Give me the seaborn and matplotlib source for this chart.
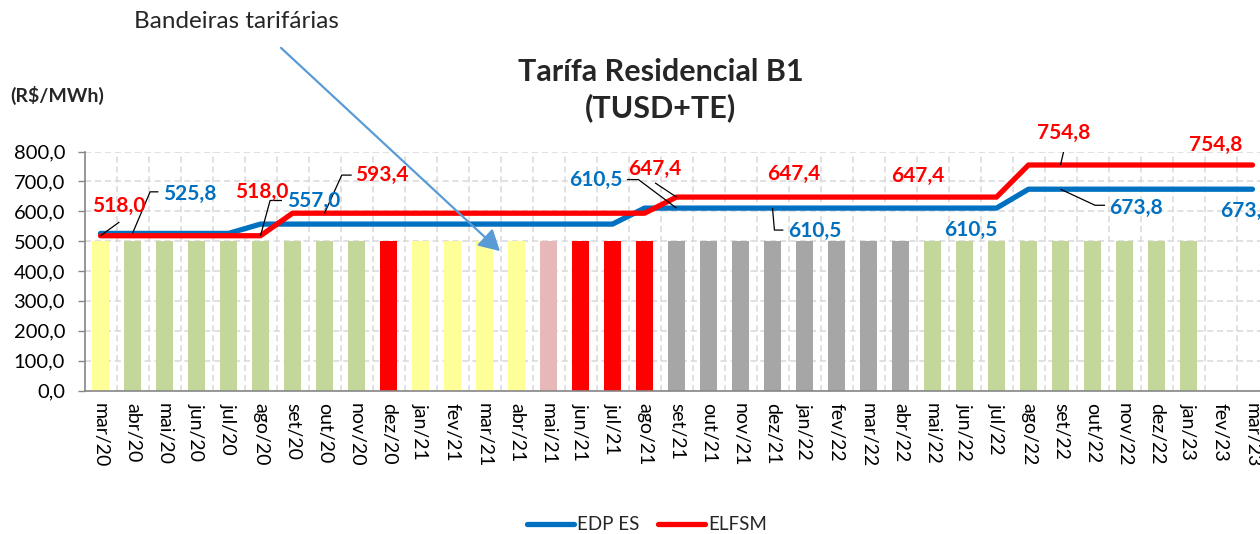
import numpy as np
import pandas as pd
import matplotlib
matplotlib.use("Agg")
import matplotlib.pyplot as plt
import seaborn as sns
from matplotlib.ticker import FuncFormatter, FixedLocator
from matplotlib.lines import Line2D

# ---------------------------------------------------------------- data
meses = ["mar/20", "abr/20", "mai/20", "jun/20", "jul/20", "ago/20", "set/20", "out/20", "nov/20", "dez/20",
         "jan/21", "fev/21", "mar/21", "abr/21", "mai/21", "jun/21", "jul/21", "ago/21", "set/21", "out/21",
         "nov/21", "dez/21", "jan/22", "fev/22", "mar/22", "abr/22", "mai/22", "jun/22", "jul/22", "ago/22",
         "set/22", "out/22", "nov/22", "dez/22", "jan/23", "fev/23", "mar/23"]

# tarifa residencial B1 (TUSD+TE), R$/MWh
edp_es = [525.8, 525.8, 525.8, 525.8, 525.8,
          557.0, 557.0, 557.0, 557.0, 557.0, 557.0, 557.0, 557.0, 557.0, 557.0, 557.0, 557.0,
          610.5, 610.5, 610.5, 610.5, 610.5, 610.5, 610.5, 610.5, 610.5, 610.5, 610.5, 610.5,
          673.8, 673.8, 673.8, 673.8, 673.8, 673.8, 673.8, 673.8]
elfsm = [518.0, 518.0, 518.0, 518.0, 518.0, 518.0,
         593.4, 593.4, 593.4, 593.4, 593.4, 593.4, 593.4, 593.4, 593.4, 593.4, 593.4, 593.4,
         647.4, 647.4, 647.4, 647.4, 647.4, 647.4, 647.4, 647.4, 647.4, 647.4, 647.4,
         754.8, 754.8, 754.8, 754.8, 754.8, 754.8, 754.8, 754.8]

# bandeira tarifária vigente em cada mês (barra indicativa de altura fixa)
bandeira = ["amarela", "verde", "verde", "verde", "verde", "verde", "verde", "verde", "verde", "vermelha P2",
            "amarela", "amarela", "amarela", "amarela", "vermelha P1", "vermelha P2", "vermelha P2", "vermelha P2",
            "escassez", "escassez", "escassez", "escassez", "escassez", "escassez", "escassez", "escassez",
            "verde", "verde", "verde", "verde", "verde", "verde", "verde", "verde", "verde", "", ""]
bandeira_altura = [500.0, 500.0, 500.0, 500.0, 500.0, 500.0, 500.0, 500.0, 500.0, 500.0,
                   500.0, 500.0, 500.0, 500.0, 500.0, 500.0, 500.0, 500.0, 500.0, 500.0,
                   500.0, 500.0, 500.0, 500.0, 500.0, 500.0, 500.0, 500.0, 500.0, 500.0,
                   500.0, 500.0, 500.0, 500.0, 500.0, np.nan, np.nan]

cores_bandeira = {"verde": "#C4D79B", "amarela": "#FFFF99", "vermelha P1": "#E6B8B7",
                  "vermelha P2": "#FF0000", "escassez": "#A6A6A6", "": "none"}

AZUL = "#0070C0"
VERMELHO = "#FF0000"

# rótulos de valor: (série, índice do mês, posição do texto, trajeto da linha de chamada)
rotulos = [
    ("elfsm", 0, (0.58, 619), [(0.59, 564)]),
    ("edp", 1, (2.80, 659), [(1.55, 665), (1.81, 665)]),
    ("elfsm", 5, (5.03, 665), [(5.30, 636), (5.67, 636)]),
    ("edp", 6, (6.66, 635), []),
    ("elfsm", 7, (8.78, 722), [(7.54, 721), (7.85, 721)]),
    ("edp", 18, (15.48, 704), [(16.81, 706), (16.45, 706)]),
    ("elfsm", 18, (17.31, 743), [(17.33, 695)]),
    ("elfsm", 21, (21.66, 726), []),
    ("edp", 21, (22.33, 535), [(21.06, 537), (21.34, 537)]),
    ("elfsm", 25, (25.53, 719), []),
    ("edp", 27, (27.20, 537), []),
    ("elfsm", 30, (30.11, 863), [(30.12, 810)]),
    ("edp", 30, (32.36, 612), [(31.08, 620), (31.39, 620)]),
    ("elfsm", 36, (34.86, 823), []),
    ("edp", 36, (35.83, 602), []),
]

# ---------------------------------------------------------------- style
sns.set_theme(style="white")
plt.rcParams["font.family"] = ["Lato", "DejaVu Sans"]

W, H = 1260, 534
fig = plt.figure(figsize=(W / 100, H / 100), dpi=100)
ax = fig.add_axes([84.5 / W, 1 - 390.5 / H, 1184 / W, 239.0 / H])

df = pd.DataFrame({"mes": meses, "altura": bandeira_altura, "bandeira": bandeira})
pos = np.arange(len(meses))

sns.barplot(data=df, x="mes", y="altura", hue="mes", order=meses, hue_order=meses,
            palette=[cores_bandeira[b] for b in bandeira], legend=False,
            width=0.55, saturation=1, linewidth=0, ax=ax, zorder=2)

sns.lineplot(x=pos, y=edp_es, color=AZUL, linewidth=3.8, solid_capstyle="round",
             sort=False, ax=ax, zorder=4)
sns.lineplot(x=pos, y=elfsm, color=VERMELHO, linewidth=3.8, solid_capstyle="round",
             sort=False, ax=ax, zorder=5)

# axes
ax.set_xlim(-0.5, len(meses) - 0.5)
ax.set_ylim(0, 800)
ax.set_xlabel("")
ax.set_ylabel("")
ax.set_yticks(np.arange(0, 801, 100))
ax.yaxis.set_major_formatter(FuncFormatter(lambda v, p: f"{v:.1f}".replace(".", ",")))
ax.xaxis.set_major_locator(FixedLocator(pos))
ax.set_xticklabels(meses, rotation=270, ha="center", va="top")
ax.xaxis.set_minor_locator(FixedLocator(np.arange(-0.5, len(meses), 1.0)))

ax.tick_params(axis="x", which="major", length=0, pad=9, labelsize=14, colors="black")
ax.tick_params(axis="x", which="minor", length=4.5, width=1, color="#868686", direction="out")
ax.tick_params(axis="y", which="major", length=5, width=1, color="#868686", direction="out",
               pad=9, labelsize=14.5, labelcolor="black", left=True)

grid_kw = dict(color="#D9D9D9", linewidth=1.1, linestyle=(0, (4, 2.5)))
ax.grid(False)
ax.yaxis.grid(True, which="major", **grid_kw)
ax.xaxis.grid(True, which="minor", **grid_kw)
ax.set_axisbelow(True)

for s in ["top", "right"]:
    ax.spines[s].set_visible(False)
for s in ["left", "bottom"]:
    ax.spines[s].set_color("#868686")
    ax.spines[s].set_linewidth(1.2)
    ax.spines[s].set_zorder(6)

# value labels with leader lines
series = {"edp": (edp_es, AZUL), "elfsm": (elfsm, VERMELHO)}
for nome, i, (tx, ty), trajeto in rotulos:
    valores, cor = series[nome]
    v = valores[i]
    ax.text(tx, ty, f"{v:.1f}".replace(".", ","), color=cor, fontsize=15, fontweight="bold",
            ha="center", va="center", zorder=7, clip_on=False)
    if trajeto:
        xs = [i] + [p[0] for p in trajeto]
        ys = [v] + [p[1] for p in trajeto]
        ax.plot(xs, ys, color="black", linewidth=0.9, zorder=6, solid_capstyle="butt")

# titles and notes
fig.text(661 / W, 1 - 90 / H, "Tarífa Residencial B1\n(TUSD+TE)", ha="center", va="center",
         fontsize=22, fontweight="bold", linespacing=1.3)
fig.text(10 / W, 1 - 95 / H, "(R$/MWh)", ha="left", va="center", fontsize=14, fontweight="bold")
fig.text(236 / W, 1 - 21 / H, "Bandeiras tarifárias", ha="center", va="center", fontsize=17.5)
fig.add_artist(matplotlib.patches.FancyArrowPatch(
    (279 / W, 1 - 46 / H), (502 / W, 1 - 253 / H), transform=fig.transFigure,
    arrowstyle="-|>,head_length=0.9,head_width=0.5", mutation_scale=14,
    color="#5B9BD5", linewidth=1.6, zorder=10))

# legend
handles = [Line2D([0], [0], color=AZUL, linewidth=3.8, solid_capstyle="round"),
           Line2D([0], [0], color=VERMELHO, linewidth=3.8, solid_capstyle="round")]
fig.legend(handles, ["EDP ES", "ELFSM"], loc="center", bbox_to_anchor=(647 / W, 1 - 525 / H),
           ncol=2, frameon=False, fontsize=13.5, handlelength=2.5, handletextpad=0.15,
           columnspacing=1.0)

fig.savefig("out.png", dpi=100)
